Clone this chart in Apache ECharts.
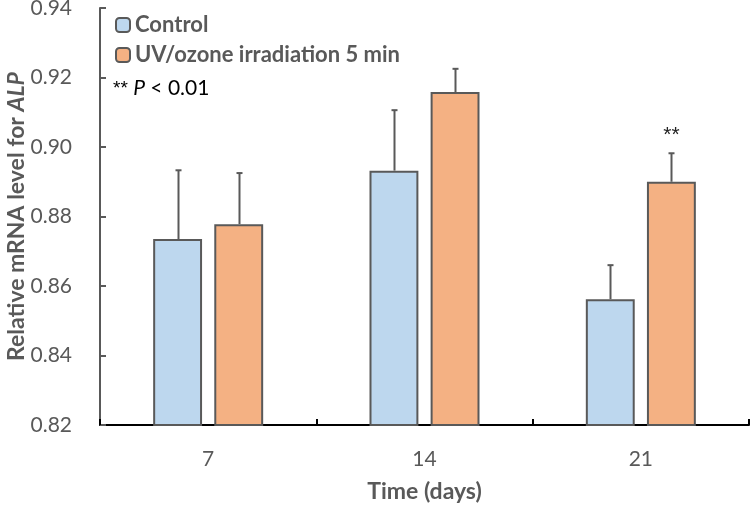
<!DOCTYPE html>
<html>
<head>
<meta charset="utf-8">
<script src="https://cdn.jsdelivr.net/npm/echarts@6/dist/echarts.min.js"></script>
<style>html,body{margin:0;padding:0;background:#fff}#c{width:750px;height:505px}</style>
</head>
<body>
<div id="c"></div>
<script>
const categories = ['7', '14', '21'];
const controlValues = [0.8735, 0.8932, 0.8562];
const controlErrors = [0.0198, 0.0174, 0.0098];
const uvValues = [0.8778, 0.9158, 0.8900];
const uvErrors = [0.0147, 0.0067, 0.0082];
const uvSignificance = ['', '', '**'];
const yTicks = [0.82, 0.84, 0.86, 0.88, 0.90, 0.92, 0.94];

const FONT = 'Lato, "Open Sans", sans-serif';
const STAR_FONT = '"Liberation Sans", "DejaVu Sans", sans-serif';
const GREY = '#595959';
const BAR_W = 0.226;   // fraction of category width
const GAP = 0.25;      // fraction of bar width

function errSeries(name, values, errors, side, labels) {
  return {
    type: 'custom',
    name: name + ' err',
    z: 1,
    silent: true,
    data: values.map((v, i) => [i, v, v + errors[i]]),
    renderItem: function (params, api) {
      const catW = api.size([1, 0])[0];
      const w = BAR_W * catW;
      const off = side * (w * (1 + GAP)) / 2;
      const base = api.coord([api.value(0), api.value(1)]);
      const top = api.coord([api.value(0), api.value(2)]);
      const x = Math.round(base[0] + off) + 0.5;
      const children = [
        { type: 'line', shape: { x1: x, y1: base[1], x2: x, y2: top[1] }, style: { stroke: GREY, lineWidth: 2 } },
        { type: 'line', shape: { x1: x - 3, y1: top[1], x2: x + 3, y2: top[1] }, style: { stroke: GREY, lineWidth: 2 } }
      ];
      const lab = labels ? labels[params.dataIndex] : '';
      if (lab) {
        children.push({ type: 'text', style: { text: lab, x: x, y: top[1] - 18, align: 'center', verticalAlign: 'middle', fill: '#222', font: '21px ' + STAR_FONT } });
      }
      return { type: 'group', children: children };
    }
  };
}

const chart = echarts.init(document.getElementById('c'), null, { renderer: 'canvas' });
chart.setOption({
  animation: false,
  backgroundColor: '#fff',
  grid: { left: 100, right: 1, top: 8, bottom: 80, containLabel: false, outerBoundsMode: 'none' },
  legend: {
    orient: 'vertical',
    left: 110,
    top: 9,
    itemWidth: 14,
    itemHeight: 14,
    itemGap: 8,
    data: ['Control', 'UV/ozone irradiation 5 min'],
    textStyle: { fontFamily: FONT, fontSize: 22, fontWeight: 'bold', color: GREY }
  },
  graphic: [{
    type: 'text', left: 113, top: 78,
    style: {
      text: '{s|**} {i|P} < 0.01',
      font: '21px ' + FONT, fill: '#000',
      rich: {
        s: { fontSize: 19, fontFamily: STAR_FONT, fill: '#000' },
        i: { fontStyle: 'italic', fontSize: 21, fontFamily: FONT, fill: '#000' }
      }
    }
  }],
  xAxis: {
    type: 'category',
    data: categories,
    name: 'Time (days)',
    nameLocation: 'middle',
    nameGap: 55,
    nameMoveOverlap: false,
    nameTextStyle: { fontFamily: FONT, fontSize: 23, fontWeight: 'bold', color: GREY },
    axisLine: { lineStyle: { color: '#000', width: 2 } },
    axisTick: { show: true, inside: true, length: 6, lineStyle: { color: '#000', width: 2 } },
    axisLabel: { margin: 24, fontFamily: FONT, fontSize: 21, color: GREY },
    splitLine: { show: false }
  },
  yAxis: {
    type: 'value',
    min: 0.82,
    max: 0.94,
    interval: 0.02,
    name: '{n|Relative mRNA level for }{i|ALP}',
    nameLocation: 'middle',
    nameGap: 72,
    nameRotate: 90,
    nameMoveOverlap: false,
    nameTextStyle: {
      rich: {
        n: { fontFamily: FONT, fontSize: 23, fontWeight: 'bold', color: GREY },
        i: { fontFamily: FONT, fontSize: 23, fontWeight: 'bold', fontStyle: 'italic', color: GREY }
      }
    },
    axisLine: { show: true, lineStyle: { color: GREY, width: 2 } },
    axisTick: { show: true, inside: true, length: 6, lineStyle: { color: GREY, width: 2 } },
    axisLabel: {
      margin: 28, fontFamily: FONT, fontSize: 21, color: GREY,
      formatter: v => { const t = yTicks.find(k => Math.abs(k - v) < 1e-9); return (t !== undefined ? t : v).toFixed(2); }
    },
    splitLine: { show: false }
  },
  series: [
    {
      name: 'Control', type: 'bar', data: controlValues,
      barWidth: (BAR_W * 100) + '%', barGap: (GAP * 100) + '%',
      itemStyle: { color: '#BDD7EE', borderColor: GREY, borderWidth: 2 },
      z: 2
    },
    {
      name: 'UV/ozone irradiation 5 min', type: 'bar', data: uvValues,
      barWidth: (BAR_W * 100) + '%', barGap: (GAP * 100) + '%',
      itemStyle: { color: '#F4B183', borderColor: GREY, borderWidth: 2 },
      z: 2
    },
    errSeries('Control', controlValues, controlErrors, -1, null),
    errSeries('UV/ozone irradiation 5 min', uvValues, uvErrors, 1, uvSignificance)
  ]
});
</script>
</body>
</html>
